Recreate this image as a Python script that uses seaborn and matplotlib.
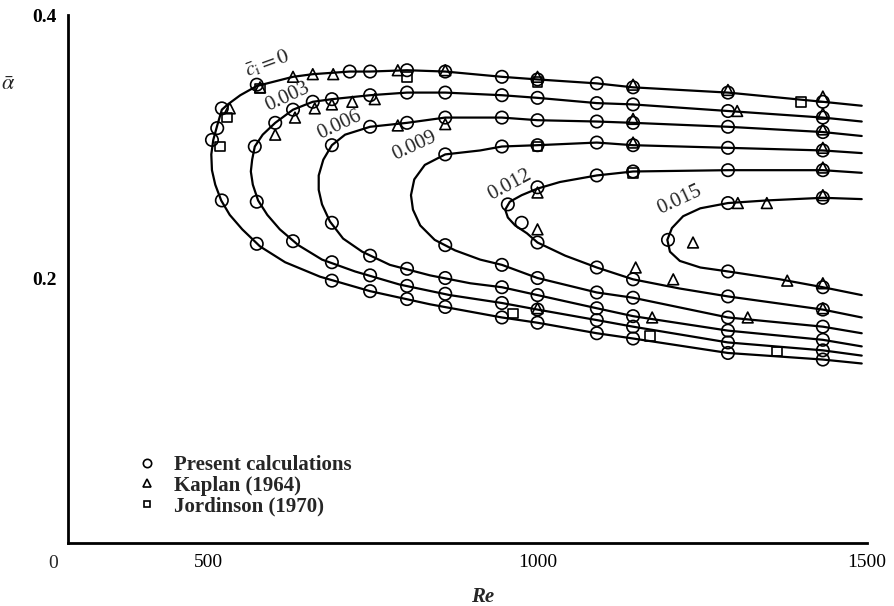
import matplotlib
matplotlib.use("Agg")
import matplotlib.pyplot as plt
import pandas as pd
import seaborn as sns
from matplotlib.lines import Line2D

# ---------------------------------------------------------------
# Contours of constant amplification rate c_i (Re, alpha)
# ---------------------------------------------------------------
ci_labels = ["0", "0.003", "0.006", "0.009", "0.012", "0.015"]

re_c0 = [1492, 1433, 1289, 1145, 1090, 1000, 946, 860, 802, 746, 715, 659, 629, 574, 549, 530, 521, 514, 508, 505,
         506, 511, 520, 533, 552, 579, 617, 670, 746, 837, 946, 1000, 1090, 1145, 1289, 1433, 1492]
al_c0 = [0.331, 0.334, 0.341, 0.345, 0.348, 0.351, 0.353, 0.357, 0.358, 0.357, 0.357, 0.355, 0.353, 0.346, 0.339,
         0.332, 0.328, 0.316, 0.305, 0.294, 0.282, 0.271, 0.259, 0.248, 0.237, 0.224, 0.212, 0.201, 0.190, 0.180,
         0.170, 0.166, 0.158, 0.154, 0.143, 0.138, 0.135]

re_c3 = [1492, 1433, 1289, 1145, 1090, 1000, 946, 860, 802, 746, 688, 659, 629, 602, 583, 571, 567, 565, 568, 576,
         590, 609, 637, 673, 723, 791, 867, 946, 1000, 1090, 1145, 1289, 1433, 1492]
al_c3 = [0.319, 0.322, 0.327, 0.332, 0.333, 0.337, 0.339, 0.341, 0.341, 0.339, 0.336, 0.334, 0.328, 0.318, 0.309,
         0.300, 0.290, 0.281, 0.271, 0.259, 0.248, 0.237, 0.225, 0.214, 0.205, 0.195, 0.187, 0.181, 0.176, 0.168,
         0.163, 0.151, 0.145, 0.141]

re_c6 = [1492, 1433, 1289, 1145, 1090, 1000, 946, 860, 802, 746, 708, 688, 675, 668, 668, 673, 685, 705, 734, 776,
         837, 898, 946, 1000, 1090, 1145, 1289, 1433, 1492]
al_c6 = [0.308, 0.311, 0.315, 0.318, 0.319, 0.320, 0.322, 0.322, 0.318, 0.315, 0.309, 0.301, 0.290, 0.278, 0.267,
         0.256, 0.243, 0.230, 0.220, 0.210, 0.202, 0.196, 0.193, 0.187, 0.177, 0.171, 0.160, 0.153, 0.148]

re_c9 = [1492, 1433, 1289, 1145, 1090, 1000, 946, 913, 860, 829, 813, 808, 811, 822, 844, 875, 913, 946, 1000, 1090,
         1145, 1289, 1433, 1492]
al_c9 = [0.295, 0.297, 0.299, 0.301, 0.303, 0.301, 0.300, 0.297, 0.294, 0.286, 0.275, 0.263, 0.252, 0.240, 0.229,
         0.221, 0.214, 0.210, 0.200, 0.189, 0.185, 0.170, 0.163, 0.158]

re_c12 = [1492, 1433, 1289, 1145, 1090, 1034, 1000, 976, 958, 951, 955, 966, 984, 1000, 1042, 1090, 1145, 1216,
          1289, 1433, 1492]
al_c12 = [0.280, 0.282, 0.282, 0.281, 0.278, 0.273, 0.268, 0.263, 0.258, 0.252, 0.246, 0.240, 0.234, 0.227, 0.217,
          0.208, 0.199, 0.192, 0.186, 0.176, 0.170]

re_c15 = [1492, 1433, 1348, 1289, 1247, 1221, 1204, 1197, 1201, 1216, 1247, 1289, 1368, 1433, 1492]
al_c15 = [0.260, 0.261, 0.259, 0.257, 0.253, 0.247, 0.238, 0.229, 0.220, 0.213, 0.208, 0.205, 0.199, 0.193, 0.187]

# ---------------------------------------------------------------
# Computed points (present calculations)
# ---------------------------------------------------------------
pc_re = [506, 514, 521, 574, 715, 746, 802, 860, 946, 1000, 1090, 1145, 1289, 1433,
         946, 1000, 1090, 1145, 1289, 1433, 521, 574, 688, 746, 802, 860,
         571, 602, 629, 659, 688, 746, 802, 860, 946, 1000, 1090, 1145, 1289, 1433,
         946, 1000, 1090, 1145, 1289, 1433, 574, 629, 688, 746, 802, 860,
         688, 746, 802, 860, 946, 1000, 1090, 1145, 1289, 1433,
         946, 1000, 1090, 1145, 1289, 1433, 688, 746, 802, 860,
         860, 946, 1000, 1090, 1145, 1289, 1433,
         946, 1000, 1090, 1145, 1289, 1433, 860,
         955, 1000, 1090, 1145, 1289, 1433, 976, 1000, 1090, 1145, 1289, 1433,
         1198, 1289, 1433, 1289, 1433]
pc_al = [0.305, 0.314, 0.329, 0.347, 0.357, 0.357, 0.358, 0.357, 0.353, 0.351, 0.348, 0.345, 0.341, 0.334,
         0.170, 0.166, 0.158, 0.154, 0.143, 0.138, 0.259, 0.226, 0.198, 0.190, 0.184, 0.178,
         0.300, 0.318, 0.328, 0.334, 0.336, 0.339, 0.341, 0.341, 0.339, 0.337, 0.333, 0.332, 0.327, 0.322,
         0.181, 0.176, 0.168, 0.163, 0.151, 0.145, 0.258, 0.228, 0.212, 0.202, 0.194, 0.188,
         0.301, 0.315, 0.318, 0.322, 0.322, 0.320, 0.319, 0.318, 0.315, 0.311,
         0.193, 0.187, 0.177, 0.171, 0.160, 0.153, 0.242, 0.217, 0.207, 0.200,
         0.294, 0.300, 0.301, 0.303, 0.301, 0.299, 0.297,
         0.210, 0.200, 0.189, 0.185, 0.170, 0.163, 0.225,
         0.256, 0.269, 0.278, 0.281, 0.282, 0.282, 0.242, 0.227, 0.208, 0.199, 0.186, 0.176,
         0.229, 0.257, 0.261, 0.205, 0.193]

# Kaplan (1964)
kap_re = [533, 579, 629, 659, 690, 788, 860, 1000, 1145, 1289, 1433,
          602, 632, 662, 688, 719, 753, 1303, 1433,
          788, 860, 1145, 1433, 1145, 1433, 1000, 1433, 1304, 1348, 1433,
          1000, 1236, 1149, 1206, 1174, 1319, 1000, 1379, 1433, 1433]
kap_al = [0.329, 0.345, 0.353, 0.355, 0.355, 0.358, 0.358, 0.353, 0.347, 0.343, 0.338,
          0.309, 0.322, 0.329, 0.332, 0.334, 0.336, 0.327, 0.325,
          0.316, 0.317, 0.321, 0.313, 0.303, 0.299, 0.265, 0.284, 0.257, 0.257, 0.263,
          0.237, 0.227, 0.208, 0.199, 0.170, 0.170, 0.177, 0.198, 0.196, 0.177]

# Jordinson (1970)
jor_re = [529, 518, 579, 802, 1000, 1000, 1145, 963, 1171, 1363, 1400]
jor_al = [0.322, 0.300, 0.344, 0.353, 0.349, 0.300, 0.280, 0.173, 0.156, 0.144, 0.334]

# Contour label positions (Re, alpha, rotation)
lab_re = [591, 621, 700, 814, 958, 1216]
lab_al = [0.363, 0.338, 0.316, 0.300, 0.271, 0.259]
lab_rot = [20, 25, 25, 25, 28, 25]

# ---------------------------------------------------------------
sns.set_theme(style="white")
plt.rcParams["font.family"] = ["Liberation Serif", "DejaVu Serif"]
plt.rcParams["mathtext.fontset"] = "stix"

curve_re = [re_c0, re_c3, re_c6, re_c9, re_c12, re_c15]
curve_al = [al_c0, al_c3, al_c6, al_c9, al_c12, al_c15]
frames = []
for lab, r, a in zip(ci_labels, curve_re, curve_al):
    frames.append(pd.DataFrame({"Re": r, "alpha": a, "ci": lab}))
curves = pd.concat(frames, ignore_index=True)

fig = plt.figure(figsize=(8.94, 6.06), dpi=100)
ax = fig.add_axes([68 / 894, 1 - 543 / 606, 799 / 894, 528 / 606])

for lab in ci_labels:
    sub = curves[curves["ci"] == lab]
    sns.lineplot(data=sub, x="Re", y="alpha", sort=False, estimator=None,
                 color="black", linewidth=1.6, ax=ax)

sns.scatterplot(x=pc_re, y=pc_al, marker="o", s=80, facecolor="none",
                edgecolor="black", linewidth=1.2, ax=ax, zorder=3)
sns.scatterplot(x=kap_re, y=kap_al, marker="^", s=60, facecolor="none",
                edgecolor="black", linewidth=1.2, ax=ax, zorder=3)
sns.scatterplot(x=jor_re, y=jor_al, marker="s", s=48, facecolor="none",
                edgecolor="black", linewidth=1.2, ax=ax, zorder=3)

# contour labels
for i, (r, a, rot) in enumerate(zip(lab_re, lab_al, lab_rot)):
    txt = r"$\bar{c}_{\mathrm{i}} = 0$" if i == 0 else ci_labels[i]
    ax.text(r, a, txt, rotation=rot, ha="center", va="center", fontsize=15,
            rotation_mode="anchor")

# axes
x_left = 500 - 140 / 0.659
ax.set_xlim(x_left, 1500)
ax.set_ylim(-0.0015, 0.4)
for side in ["top", "right"]:
    ax.spines[side].set_visible(False)
for side in ["left", "bottom"]:
    ax.spines[side].set_linewidth(2.0)
    ax.spines[side].set_color("black")

ax.set_xticks([500, 1000, 1500])
ax.set_xticklabels(["500", "1000", "1500"], fontsize=14)
ax.set_yticks([0.1, 0.2, 0.3, 0.4])
ax.set_yticklabels(["", "0.2", "", "0.4"], fontsize=14, fontweight="bold")
ax.tick_params(axis="both", direction="in", length=5, width=1.5, colors="black",
               pad=8)
ax.text(-0.019, -0.038, "0", transform=ax.transAxes, ha="center", va="center",
        fontsize=14)

ax.set_xlabel("Re", fontsize=15, fontstyle="italic", fontweight="bold")
ax.xaxis.set_label_coords(0.519, -0.084)
ax.set_ylabel("")
ax.text(-0.075, 0.867, r"$\bar{\alpha}$", transform=ax.transAxes, ha="center",
        va="center", fontsize=16)

handles = [
    Line2D([], [], marker="o", linestyle="", markersize=6, markerfacecolor="none",
           markeredgecolor="black", markeredgewidth=1.2),
    Line2D([], [], marker="^", linestyle="", markersize=6, markerfacecolor="none",
           markeredgecolor="black", markeredgewidth=1.2),
    Line2D([], [], marker="s", linestyle="", markersize=5, markerfacecolor="none",
           markeredgecolor="black", markeredgewidth=1.2),
]
ax.legend(handles, ["Present calculations", "Kaplan (1964)", "Jordinson (1970)"],
          loc="upper left", bbox_to_anchor=(0.073, 0.186), frameon=False,
          handlelength=1.0, handletextpad=0.8, labelspacing=0.02, borderpad=0,
          prop={"family": "Liberation Serif", "weight": "bold", "size": 15})

fig.savefig("out.png", dpi=100)
